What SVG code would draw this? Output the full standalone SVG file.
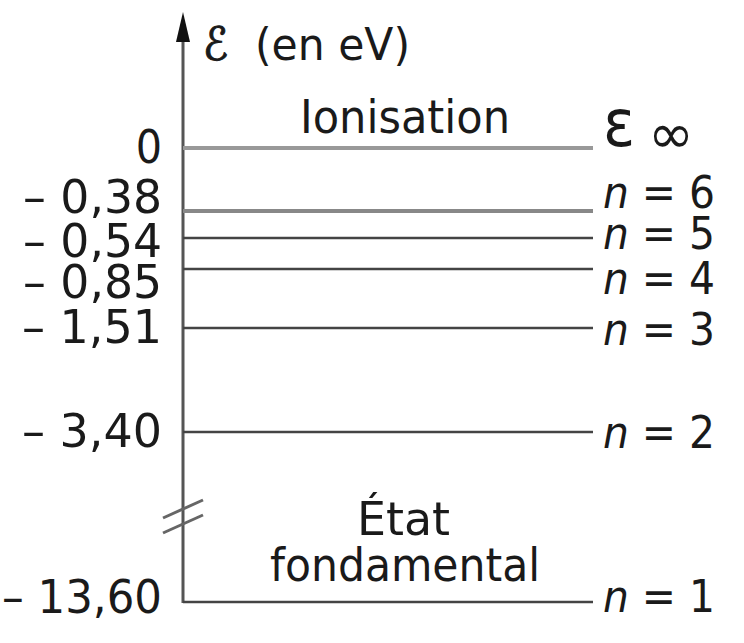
<svg xmlns="http://www.w3.org/2000/svg" width="744" height="643" viewBox="0 0 744 643">
<style>
text{font-family:"DejaVu Sans Condensed","Liberation Sans","Noto Sans",sans-serif;fill:#1a1a1a}
.l{font-size:46px;text-anchor:end}
.r{font-size:45px}
.lv{stroke:#444;stroke-width:2.5}
.lg{stroke:#999;stroke-width:4}
</style>
<rect width="744" height="643" fill="#fff"/>
<g id="connectors">
<line x1="183" y1="603" x2="183" y2="36" stroke="#555" stroke-width="3"/>
<polygon points="183,12 176,42 190,42" fill="#111"/>
<line x1="163" y1="518" x2="203" y2="500" stroke="#666" stroke-width="3"/>
<line x1="163" y1="533" x2="203" y2="515" stroke="#666" stroke-width="3"/>
</g>
<g id="axis-label">
<text x="203" y="60" style="font-size:46px;stroke:#1a1a1a;stroke-width:1">ℰ</text>
<text x="255" y="60" style="font-size:44px" textLength="155" lengthAdjust="spacingAndGlyphs">(en eV)</text>
</g>
<g id="level-inf">
<line class="lg" x1="183" y1="148" x2="593" y2="148"/>
<text class="l" x="162" y="163">0</text>
<text x="300" y="133" style="font-size:46px" textLength="210" lengthAdjust="spacingAndGlyphs">Ionisation</text>
<text x="603" y="146" style="font-size:66px">ε</text>
<text x="648" y="153" style="font-size:56px" textLength="46" lengthAdjust="spacingAndGlyphs">∞</text>
</g>
<g id="level-6">
<line class="lg" x1="183" y1="211" x2="593" y2="211" style="stroke:#888"/>
<text x="23" y="213" style="font-size:46px" textLength="139" lengthAdjust="spacingAndGlyphs">– 0,38</text>
<text class="r" x="603" y="208" textLength="112" lengthAdjust="spacingAndGlyphs"><tspan font-style="italic">n</tspan> = 6</text>
</g>
<g id="level-5">
<line class="lv" x1="183" y1="238" x2="593" y2="238"/>
<text x="23" y="257" style="font-size:46px" textLength="139" lengthAdjust="spacingAndGlyphs">– 0,54</text>
<text class="r" x="603" y="249" textLength="112" lengthAdjust="spacingAndGlyphs"><tspan font-style="italic">n</tspan> = 5</text>
</g>
<g id="level-4">
<line class="lv" x1="183" y1="269" x2="593" y2="269"/>
<text x="23" y="298" style="font-size:46px" textLength="139" lengthAdjust="spacingAndGlyphs">– 0,85</text>
<text class="r" x="603" y="294" textLength="112" lengthAdjust="spacingAndGlyphs"><tspan font-style="italic">n</tspan> = 4</text>
</g>
<g id="level-3">
<line class="lv" x1="183" y1="328" x2="593" y2="328"/>
<text x="22" y="343" style="font-size:46px" textLength="140" lengthAdjust="spacingAndGlyphs">– 1,51</text>
<text class="r" x="603" y="345" textLength="112" lengthAdjust="spacingAndGlyphs"><tspan font-style="italic">n</tspan> = 3</text>
</g>
<g id="level-2">
<line class="lv" x1="183" y1="432" x2="593" y2="432"/>
<text x="22" y="447" style="font-size:46px" textLength="140" lengthAdjust="spacingAndGlyphs">– 3,40</text>
<text class="r" x="603" y="448" textLength="112" lengthAdjust="spacingAndGlyphs"><tspan font-style="italic">n</tspan> = 2</text>
</g>
<g id="level-1">
<line class="lv" x1="183" y1="602" x2="593" y2="602"/>
<text x="2" y="613" style="font-size:46px" textLength="160" lengthAdjust="spacingAndGlyphs">– 13,60</text>
<text class="r" x="603" y="612" textLength="112" lengthAdjust="spacingAndGlyphs"><tspan font-style="italic">n</tspan> = 1</text>
<text x="357" y="535" style="font-size:46px" textLength="93" lengthAdjust="spacingAndGlyphs">État</text>
<text x="270" y="581" style="font-size:46px" textLength="270" lengthAdjust="spacingAndGlyphs">fondamental</text>
</g>
</svg>
